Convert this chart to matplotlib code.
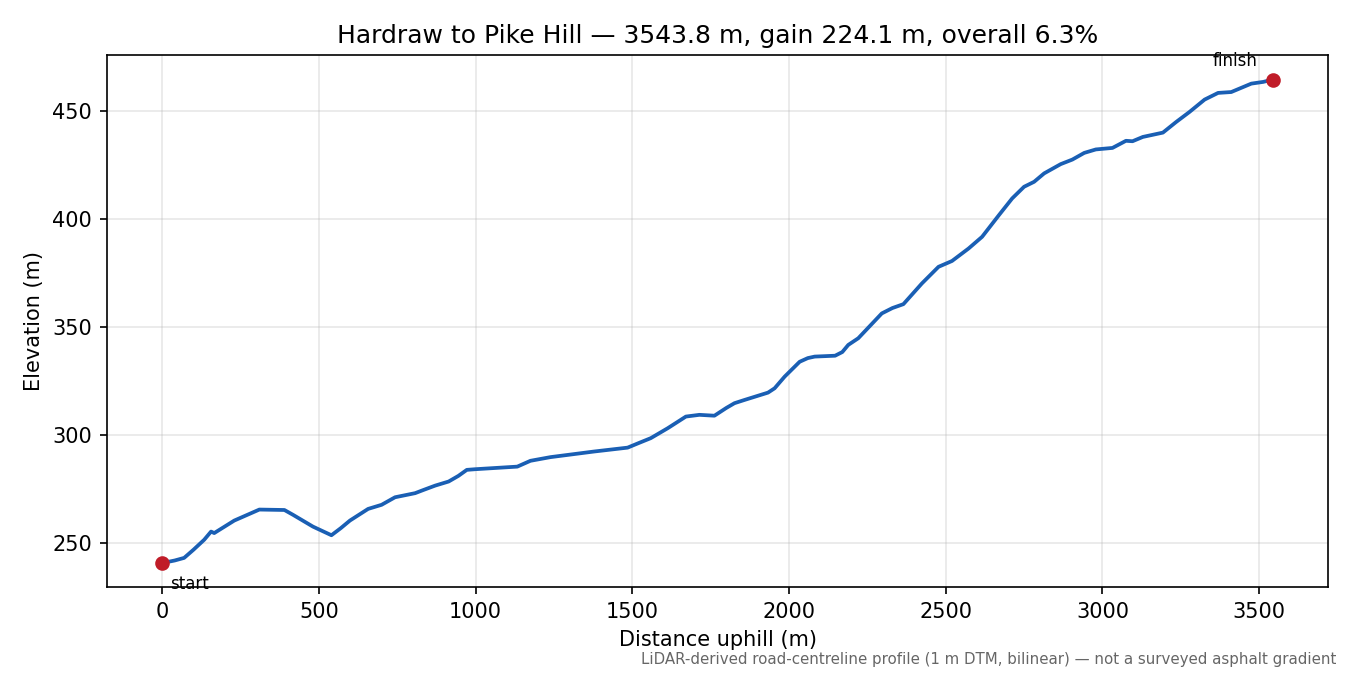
import matplotlib
matplotlib.use('Agg')
import matplotlib.pyplot as plt
import numpy as np

# profile, (distance m, elevation m)
distance = [0, 40, 70, 100, 134, 156, 166, 230, 310, 390, 417, 481, 540, 570,
            599, 657, 700, 743, 807, 834, 871, 914, 945, 972, 999, 1133, 1175,
            1239, 1378, 1485, 1520, 1559, 1613, 1671, 1714, 1762, 1800, 1826,
            1858, 1933, 1954, 1986, 2034, 2060, 2082, 2147, 2170, 2189, 2221,
            2296, 2330, 2365, 2424, 2477, 2520, 2573, 2616, 2670, 2712, 2750,
            2782, 2814, 2867, 2904, 2942, 2979, 3032, 3075, 3096, 3129, 3193,
            3235, 3278, 3326, 3369, 3411, 3475, 3513, 3543.8]
elevation = [240.6, 241.8, 243.0, 246.8, 251.4, 255.2, 254.5, 260.3, 265.4,
             265.2, 263.0, 257.5, 253.5, 256.8, 260.3, 265.7, 267.6, 271.1,
             273.0, 274.5, 276.5, 278.4, 281.0, 283.8, 284.1, 285.3, 288.0,
             289.7, 292.3, 294.1, 296.2, 298.5, 303.1, 308.5, 309.3, 308.9,
             312.5, 314.7, 316.2, 319.6, 321.6, 327.0, 333.9, 335.6, 336.3,
             336.7, 338.4, 341.7, 344.8, 356.3, 358.8, 360.6, 370.2, 377.9,
             380.6, 386.4, 391.8, 401.9, 409.6, 415.0, 417.3, 421.2, 425.5,
             427.6, 430.7, 432.3, 433.0, 436.3, 436.1, 438.1, 440.1, 445.0,
             449.7, 455.4, 458.5, 458.9, 462.8, 463.6, 464.7]

route = "Hardraw to Pike Hill"
total = 3543.8
gain = 224.1
grade = 6.3

blue = "#1a5fb4"
red = "#c01c28"

fig, ax = plt.subplots(figsize=(9, 4.5), dpi=150)
ax.plot(distance, elevation, color=blue, lw=1.8)
ax.plot([distance[0], distance[-1]], [elevation[0], elevation[-1]], 'o',
        color=red, ms=6, zorder=3)
ax.annotate("start", (distance[0], elevation[0]), xytext=(4, -10),
            textcoords="offset points", fontsize=8, va="center")
ax.annotate("finish", (distance[-1], elevation[-1]), xytext=(-18, 9),
            textcoords="offset points", fontsize=8, ha="center", va="center")

ax.grid(True, alpha=0.3)
ax.set_xlabel("Distance uphill (m)")
ax.set_ylabel("Elevation (m)")
ax.set_title("%s \u2014 %.1f m, gain %.1f m, overall %.1f%%" % (route, total, gain, grade))

fig.text(0.99, 0.012,
         "LiDAR-derived road-centreline profile (1 m DTM, bilinear) \u2014 not a surveyed asphalt gradient",
         ha="right", va="bottom", fontsize=7.2, color="#666666")

fig.subplots_adjust(left=0.079, right=0.984, top=0.918, bottom=0.13)
fig.savefig("out.png")
